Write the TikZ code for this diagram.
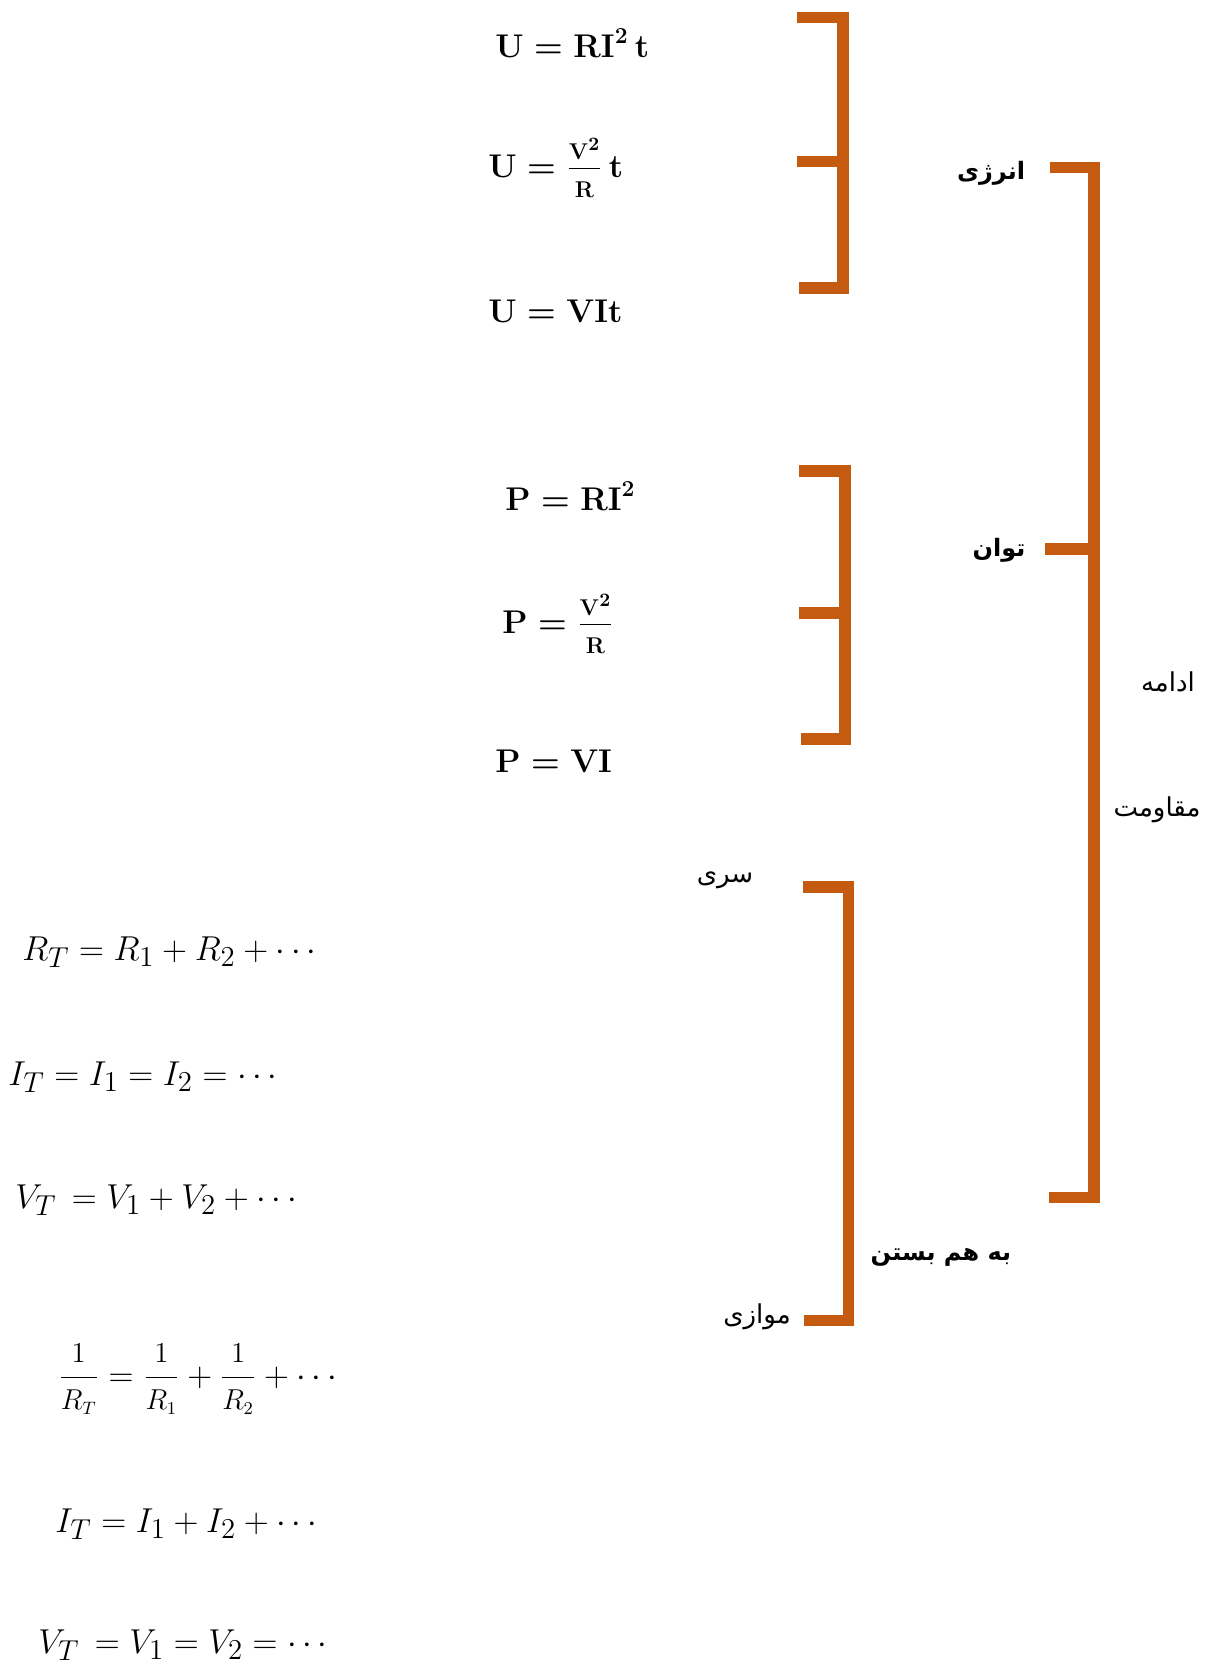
\documentclass[tikz,border=0pt]{standalone}
\usepackage{amsmath}
\usepackage{fontspec}
\TeXXeTstate=1
\newfontfamily\fafont[Script=Arabic]{DejaVu Sans}
\definecolor{brk}{HTML}{C55A11}
\newcommand\bmath[1]{{\boldmath$#1$}}
\newcommand\sfr[2]{{\displaystyle\frac{\scriptstyle #1}{\scriptstyle #2}}}
\newcommand\bfr[2]{\tfrac{#1\rule[-4pt]{0pt}{4pt}}{\rule{0pt}{14pt}#2}}
\tikzset{
  brace/.style={draw=brk, line width=5.75pt, line join=miter},
  beq/.style={anchor=base west, inner sep=0pt, scale=0.95, transform shape, font=\fontsize{17.28}{20}\selectfont},
  ieq/.style={anchor=base west, inner sep=0pt, font=\fontsize{19}{23}\selectfont},
  fab/.style={anchor=center, inner sep=0pt, font=\fafont\bfseries\fontsize{12}{16}\selectfont},
  fan/.style={anchor=center, inner sep=0pt, font=\fafont\fontsize{13}{18}\selectfont},
}
\begin{document}
\begin{tikzpicture}[x=0.5pt, y=-0.5pt]
\useasboundingbox (0,0) rectangle (1205,1667);
% bold equations
\node[beq] (u1) at (495,57) {\bmath{\mathbf{U}=\mathbf{RI}^{\mathbf{2}}\,\mathbf{t}}};
\node[beq] (u2) at (488,177) {\bmath{\mathbf{U}=\bfr{\mathbf{V}^{\mathbf{2}}}{\mathbf{R}}\,\mathbf{t}}};
\node[beq] (u3) at (488,322) {\bmath{\mathbf{U}=\mathbf{VIt}}};
\node[beq] (p1) at (505,510) {\bmath{\mathbf{P}=\mathbf{RI}^{\mathbf{2}}}};
\node[beq] (p2) at (502,633) {\bmath{\mathbf{P}=\bfr{\mathbf{V}^{\mathbf{2}}}{\mathbf{R}}}};
\node[beq] (p3) at (495,772) {\bmath{\mathbf{P}=\mathbf{VI}}};
% italic equations
\node[ieq] (s1) at (22,960) {$R_T=R_1+R_2+\cdots$};
\node[ieq] (s2) at (8,1085) {$I_T=I_1=I_2=\cdots$};
\node[ieq] (s3) at (15,1208) {$V_T\,=V_1+V_2+\cdots$};
\node[ieq] (q1) at (58,1386) {$\sfr{1}{R_T}=\sfr{1}{R_1}+\sfr{1}{R_2}+\cdots$};
\node[ieq] (q2) at (55,1532) {$I_T=I_1+I_2+\cdots$};
\node[ieq] (q3) at (38,1653) {$V_T\,=V_1=V_2=\cdots$};
% Persian labels
\node[fab] (energy) at (991,173) {\beginR انرژی\endR};
\node[fab] (power) at (999,550) {\beginR توان\endR};
\node[fan] (edame) at (1168,682) {\beginR ادامه\endR};
\node[fan] (moghavemat) at (1157,810) {\beginR مقاومت\endR};
\node[fan] (seri) at (725,880) {\beginR سری\endR};
\node[fab] (behambastan) at (941,1257) {\beginR به هم بستن\endR};
\node[fan] (movazi) at (757,1317) {\beginR موازی\endR};
% bracket 1 (energy)
\coordinate (a1) at (797,17.5);  \coordinate (a1c) at (843,17.5);
\coordinate (a2) at (797,161.5); \coordinate (a2c) at (843,161.5);
\coordinate (a3) at (799,288);   \coordinate (a3c) at (843,288);
\draw[brace] (a1) -- (a1c) -- (a3c) -- (a3);
\draw[brace] (a2) -- (a2c);
% bracket 2 (power)
\coordinate (b1) at (799,471);  \coordinate (b1c) at (845,471);
\coordinate (b2) at (799,613);  \coordinate (b2c) at (845,613);
\coordinate (b3) at (801,739);  \coordinate (b3c) at (845,739);
\draw[brace] (b1) -- (b1c) -- (b3c) -- (b3);
\draw[brace] (b2) -- (b2c);
% bracket 3 (connection)
\coordinate (c1) at (803,887);  \coordinate (c1c) at (848.5,887);
\coordinate (c3) at (804,1320.5); \coordinate (c3c) at (848.5,1320.5);
\draw[brace] (c1) -- (c1c) -- (c3c) -- (c3);
% big bracket
\coordinate (d1) at (1050,167.5); \coordinate (d1c) at (1094,167.5);
\coordinate (d2) at (1045,549);   \coordinate (d2c) at (1094,549);
\coordinate (d3) at (1049,1197.5); \coordinate (d3c) at (1094,1197.5);
\draw[brace] (d1) -- (d1c) -- (d3c) -- (d3);
\draw[brace] (d2) -- (d2c);
\end{tikzpicture}
\end{document}
